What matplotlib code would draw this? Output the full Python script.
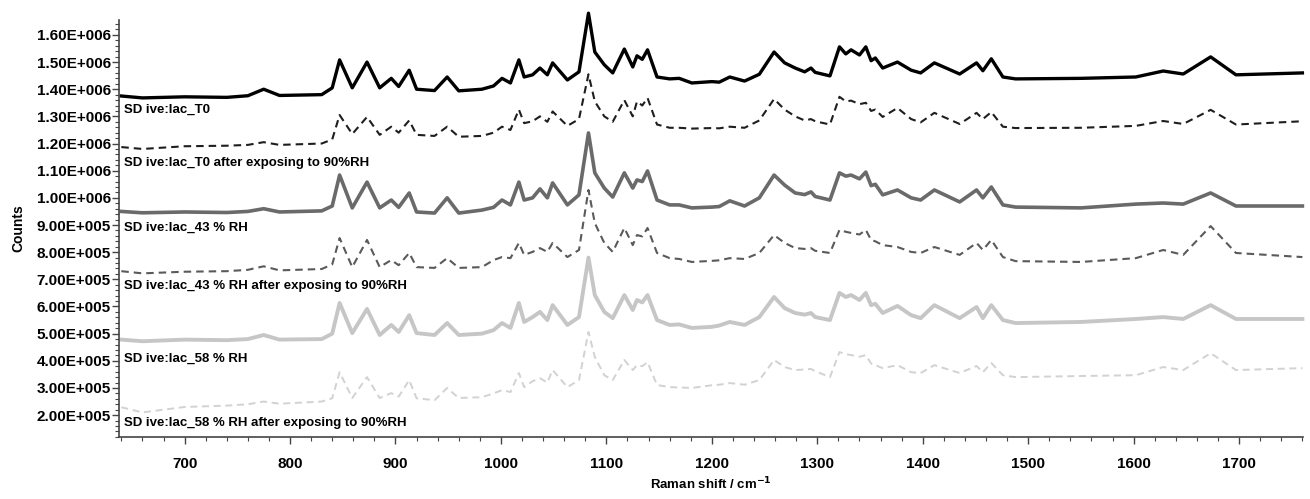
import matplotlib
matplotlib.use("Agg")
from matplotlib import pyplot as plt
from matplotlib.ticker import FixedLocator, MultipleLocator

plt.rcParams['font.family'] = ['Liberation Sans', 'DejaVu Sans']

# Raman shift (cm-1) of the read-off points, shared by all spectra
shift = [640, 660, 700, 740, 760, 775, 790, 830, 840, 847, 859, 873, 885, 896, 903, 913,
         920, 937, 949, 960, 982, 993, 1001, 1009, 1017, 1022, 1030, 1037, 1044, 1049,
         1063, 1074, 1083, 1089, 1098, 1106, 1117, 1125, 1129, 1134, 1139, 1148, 1160,
         1169, 1181, 1200, 1207, 1217, 1231, 1245, 1259, 1269, 1279, 1288, 1294, 1298,
         1312, 1321, 1327, 1332, 1340, 1346, 1351, 1355, 1362, 1376, 1389, 1398, 1411,
         1435, 1451, 1457, 1465, 1476, 1488, 1550, 1602, 1628, 1647, 1673, 1697, 1760]

# counts in units of 1e6
t0 = [1.375, 1.368, 1.372, 1.370, 1.376, 1.400, 1.377, 1.380, 1.405, 1.508, 1.405, 1.500,
      1.405, 1.440, 1.410, 1.470, 1.400, 1.395, 1.445, 1.394, 1.400, 1.412, 1.440, 1.423,
      1.508, 1.445, 1.453, 1.478, 1.453, 1.497, 1.434, 1.464, 1.680, 1.537, 1.490, 1.460,
      1.548, 1.482, 1.523, 1.510, 1.545, 1.445, 1.438, 1.440, 1.423, 1.428, 1.426, 1.445,
      1.430, 1.455, 1.537, 1.497, 1.478, 1.464, 1.478, 1.462, 1.449, 1.556, 1.530, 1.545,
      1.526, 1.556, 1.505, 1.515, 1.478, 1.500, 1.470, 1.460, 1.497, 1.456, 1.497, 1.468,
      1.512, 1.445, 1.438, 1.440, 1.445, 1.467, 1.456, 1.519, 1.453, 1.460]

t0_90 = [1.187, 1.180, 1.190, 1.192, 1.195, 1.205, 1.195, 1.200, 1.215, 1.305, 1.235, 1.298,
         1.232, 1.262, 1.240, 1.285, 1.232, 1.228, 1.262, 1.225, 1.228, 1.240, 1.262, 1.250,
         1.325, 1.275, 1.282, 1.300, 1.280, 1.318, 1.265, 1.290, 1.455, 1.355, 1.300, 1.280,
         1.360, 1.300, 1.355, 1.340, 1.368, 1.270, 1.258, 1.258, 1.255, 1.257, 1.256, 1.262,
         1.258, 1.285, 1.364, 1.325, 1.300, 1.285, 1.290, 1.282, 1.270, 1.372, 1.355, 1.358,
         1.345, 1.350, 1.320, 1.325, 1.298, 1.331, 1.290, 1.278, 1.313, 1.272, 1.313, 1.290,
         1.316, 1.262, 1.257, 1.258, 1.265, 1.283, 1.272, 1.324, 1.270, 1.282]

rh43 = [0.950, 0.945, 0.948, 0.946, 0.950, 0.960, 0.948, 0.952, 0.970, 1.084, 0.963, 1.058,
        0.963, 0.992, 0.965, 1.018, 0.948, 0.944, 1.000, 0.944, 0.955, 0.965, 0.992, 0.974,
        1.058, 0.992, 1.000, 1.033, 1.000, 1.055, 0.974, 1.011, 1.239, 1.092, 1.036, 1.003,
        1.092, 1.036, 1.066, 1.060, 1.099, 0.992, 0.974, 0.974, 0.963, 0.966, 0.968, 0.989,
        0.970, 1.000, 1.084, 1.047, 1.018, 1.012, 1.022, 1.005, 0.992, 1.092, 1.080, 1.084,
        1.070, 1.095, 1.045, 1.050, 1.011, 1.029, 1.000, 0.992, 1.029, 0.985, 1.029, 1.000,
        1.040, 0.974, 0.966, 0.963, 0.977, 0.981, 0.977, 1.018, 0.970, 0.970]

rh43_90 = [0.730, 0.722, 0.728, 0.730, 0.735, 0.748, 0.733, 0.738, 0.755, 0.852, 0.745, 0.845,
           0.745, 0.771, 0.752, 0.797, 0.745, 0.742, 0.778, 0.742, 0.745, 0.771, 0.782, 0.778,
           0.834, 0.790, 0.801, 0.815, 0.801, 0.834, 0.782, 0.808, 1.029, 0.907, 0.834, 0.801,
           0.889, 0.826, 0.863, 0.858, 0.889, 0.797, 0.778, 0.775, 0.764, 0.768, 0.770, 0.778,
           0.775, 0.797, 0.863, 0.834, 0.815, 0.812, 0.815, 0.805, 0.797, 0.882, 0.875, 0.871,
           0.865, 0.882, 0.845, 0.840, 0.826, 0.819, 0.801, 0.797, 0.819, 0.790, 0.834, 0.808,
           0.845, 0.782, 0.767, 0.764, 0.778, 0.808, 0.790, 0.896, 0.797, 0.782]

rh58 = [0.478, 0.472, 0.478, 0.476, 0.480, 0.495, 0.478, 0.480, 0.500, 0.613, 0.502, 0.591,
        0.495, 0.532, 0.506, 0.568, 0.502, 0.495, 0.539, 0.495, 0.500, 0.513, 0.539, 0.521,
        0.613, 0.543, 0.561, 0.580, 0.550, 0.605, 0.532, 0.561, 0.780, 0.642, 0.580, 0.557,
        0.642, 0.587, 0.624, 0.615, 0.642, 0.550, 0.532, 0.534, 0.521, 0.525, 0.530, 0.543,
        0.532, 0.561, 0.635, 0.594, 0.576, 0.570, 0.576, 0.561, 0.550, 0.650, 0.635, 0.642,
        0.624, 0.650, 0.605, 0.610, 0.576, 0.602, 0.568, 0.557, 0.605, 0.557, 0.598, 0.557,
        0.605, 0.550, 0.539, 0.543, 0.554, 0.561, 0.554, 0.605, 0.554, 0.554]

rh58_90 = [0.229, 0.210, 0.230, 0.235, 0.240, 0.250, 0.242, 0.250, 0.262, 0.358, 0.263, 0.340,
           0.263, 0.281, 0.268, 0.329, 0.262, 0.255, 0.300, 0.263, 0.266, 0.280, 0.292, 0.285,
           0.355, 0.303, 0.325, 0.336, 0.320, 0.366, 0.303, 0.329, 0.506, 0.414, 0.347, 0.329,
           0.403, 0.366, 0.384, 0.380, 0.395, 0.311, 0.303, 0.302, 0.300, 0.310, 0.312, 0.318,
           0.312, 0.329, 0.403, 0.377, 0.366, 0.368, 0.370, 0.362, 0.340, 0.432, 0.425, 0.421,
           0.415, 0.421, 0.390, 0.384, 0.373, 0.384, 0.358, 0.355, 0.384, 0.355, 0.381, 0.358,
           0.392, 0.347, 0.340, 0.344, 0.347, 0.377, 0.366, 0.428, 0.366, 0.373]

labels = ["SD ive:lac_T0",
          "SD ive:lac_T0 after exposing to 90%RH",
          "SD ive:lac_43 % RH",
          "SD ive:lac_43 % RH after exposing to 90%RH",
          "SD ive:lac_58 % RH",
          "SD ive:lac_58 % RH after exposing to 90%RH"]
label_y = [1.324, 1.129, 0.889, 0.675, 0.406, 0.170]

yticks = [0.2, 0.3, 0.4, 0.5, 0.6, 0.7, 0.8, 0.9, 1.0, 1.1, 1.2, 1.3, 1.4, 1.5, 1.6]
ytick_labels = ["2.00E+005", "3.00E+005", "4.00E+005", "5.00E+005", "6.00E+005",
                "7.00E+005", "8.00E+005", "9.00E+005", "1.00E+006", "1.10E+006",
                "1.20E+006", "1.30E+006", "1.40E+006", "1.50E+006", "1.60E+006"]

series = [t0, t0_90, rh43, rh43_90, rh58, rh58_90]
colors = ['#000000', '#1e1e1e', '#6a6a6a', '#5a5a5a', '#c6c6c6', '#d2d2d2']
widths = [2.4, 1.5, 2.6, 1.5, 2.8, 1.4]
dashed = [False, True, False, True, False, True]

fig = plt.figure(figsize=(13.1, 4.99), dpi=100)
ax = fig.add_axes([0.091, 0.124, 0.904, 0.836])

for ys, c, lw, d in zip(series, colors, widths, dashed):
    line, = ax.plot(shift, [v * 1e6 for v in ys], color=c, lw=lw, clip_on=False,
                    solid_joinstyle='round')
    if d:
        line.set_dashes((3.6, 2.4))

for txt, yl in zip(labels, label_y):
    ax.text(643, yl * 1e6, txt, fontsize=9.5, fontweight='bold', va='center', ha='left')

ax.set_xlim(638, 1761)
ax.set_ylim(0.119e6, 1.655e6)
ax.xaxis.set_major_locator(MultipleLocator(100))
ax.xaxis.set_minor_locator(MultipleLocator(20))
ax.yaxis.set_major_locator(FixedLocator([v * 1e6 for v in yticks]))
ax.set_yticklabels(ytick_labels)
ax.yaxis.set_minor_locator(MultipleLocator(2e4))

for s in ['top', 'right']:
    ax.spines[s].set_visible(False)
for s in ['left', 'bottom']:
    ax.spines[s].set_color('#444444')
    ax.spines[s].set_linewidth(1.2)
ax.tick_params(axis='both', which='major', length=5, width=1, color='#444444',
               labelsize=11, pad=1)
ax.tick_params(axis='both', which='minor', length=3, width=0.8, color='#444444')
ax.tick_params(axis='x', which='major', pad=9)
for lab in ax.get_xticklabels() + ax.get_yticklabels():
    lab.set_fontweight('bold')

ax.set_xlabel("Raman shift / cm$^{\\mathbf{-1}}$", fontsize=9.5, fontweight='bold', labelpad=4)
ax.set_ylabel("Counts", fontsize=10, fontweight='bold', labelpad=8)

fig.savefig("out.png", dpi=100)
